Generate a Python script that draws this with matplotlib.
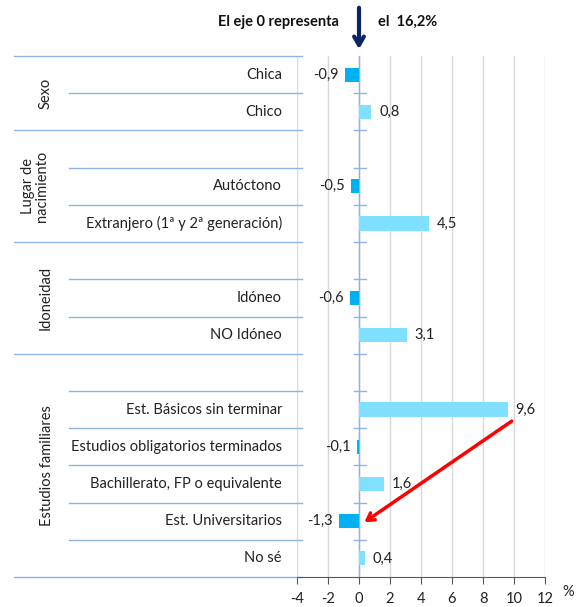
import matplotlib.pyplot as plt
from matplotlib.transforms import blended_transform_factory

# ----- data (blank rows separate the groups, as in the original sheet)
categories = ['Chica', 'Chico', '',
              'Autóctono', 'Extranjero (1ª y 2ª generación)', '',
              'Idóneo', 'NO Idóneo', '',
              'Est. Básicos sin terminar', 'Estudios obligatorios terminados',
              'Bachillerato, FP o equivalente', 'Est. Universitarios', 'No sé']
values = [-0.9, 0.8, None,
          -0.5, 4.5, None,
          -0.6, 3.1, None,
          9.6, -0.1, 1.6, -1.3, 0.4]
groups = ['Sexo', 'Lugar de\nnacimiento', 'Idoneidad', 'Estudios familiares']
group_rows = [(0, 1), (2, 4), (5, 7), (8, 13)]
x_ticks = [-4, -2, 0, 2, 4, 6, 8, 10, 12]

plt.rcParams['font.family'] = ['Lato', 'DejaVu Sans']

fig = plt.figure(figsize=(5.88, 6.07), dpi=100)
ax = fig.add_axes([297 / 588, 1 - 577 / 607, 248 / 588, 521 / 607])

sep_col = '#8EB4E3'
neg_col = '#00B0F0'
pos_col = '#7FE0FF'

n = len(categories)
for i, v in enumerate(values):
    if v is None:
        continue
    ax.barh(i, v, height=0.38, color=neg_col if v < 0 else pos_col, zorder=3)
    txt = f'{v:.1f}'.replace('.', ',')
    if v < 0:
        ax.text(v - 0.4, i, txt, ha='right', va='center', fontsize=10.5, color='#222222')
    else:
        ax.text(v + 0.5, i, txt, ha='left', va='center', fontsize=10.5, color='#222222')

ax.set_xlim(-4, 12)
ax.set_ylim(n - 0.5, -0.5)
ax.set_xticks(x_ticks)
ax.set_xticklabels([str(t) for t in x_ticks], fontsize=10.5, color='#222222')
ax.tick_params(axis='x', length=5, color='#595959', pad=6)
ax.set_yticks([])
ax.grid(axis='x', color='#D9D9D9', linewidth=1, zorder=0)
for s in ['top', 'right', 'left']:
    ax.spines[s].set_visible(False)
ax.spines['bottom'].set_color('#595959')
ax.axvline(0, color=sep_col, linewidth=1, zorder=2)
ax.text(13.5, n - 0.1, '%', ha='center', va='center', fontsize=10.5, color='#222222',
        clip_on=False)

# category labels and separators, outside the axes
trans = blended_transform_factory(fig.transFigure, ax.transData)
for i, c in enumerate(categories):
    if c:
        ax.text(282 / 588, i, c, ha='right', va='center', fontsize=10.5,
                color='#222222', transform=trans)

group_edges = {-0.5} | {g[1] + 0.5 for g in group_rows}
for k in range(n + 1):
    y = k - 0.5
    x0 = 14 / 588 if y in group_edges else 69 / 588
    ax.plot([x0, 302 / 588], [y, y], color=sep_col, linewidth=1,
            transform=trans, clip_on=False)
    if 0 < k < n:
        ax.plot([-0.3, 0.45], [y, y], color=sep_col, linewidth=1, clip_on=False)

group_x = [46, 35, 46, 47]
for name, (r0, r1), gx in zip(groups, group_rows, group_x):
    ax.text(gx / 588, (r0 + r1) / 2, name, rotation=90, ha='center', va='center',
            fontsize=10.5, color='#222222', transform=trans, linespacing=1.0)

# top note with arrow pointing at the zero axis
fig.text(339 / 588, 1 - 22 / 607, 'El eje 0 representa', ha='right', va='center',
         fontsize=10.5, fontweight='bold', color='#111111')
fig.text(378 / 588, 1 - 22 / 607, 'el  16,2%', ha='left', va='center',
         fontsize=10.5, fontweight='bold', color='#111111')
ax.annotate('', xy=(0, 1.008), xycoords=('data', 'axes fraction'),
            xytext=(0, 1.098), textcoords=('data', 'axes fraction'),
            arrowprops=dict(arrowstyle='->,head_length=0.6,head_width=0.35',
                            color='#0B2466', linewidth=3))

# red arrow from the highest bar to the university bar
ax.annotate('', xy=(0.2, 12.07), xytext=(10.0, 9.27),
            arrowprops=dict(arrowstyle='->,head_length=0.5,head_width=0.3',
                            color='#FF0000', linewidth=2.5), zorder=5)

fig.savefig('out.png', dpi=100)
